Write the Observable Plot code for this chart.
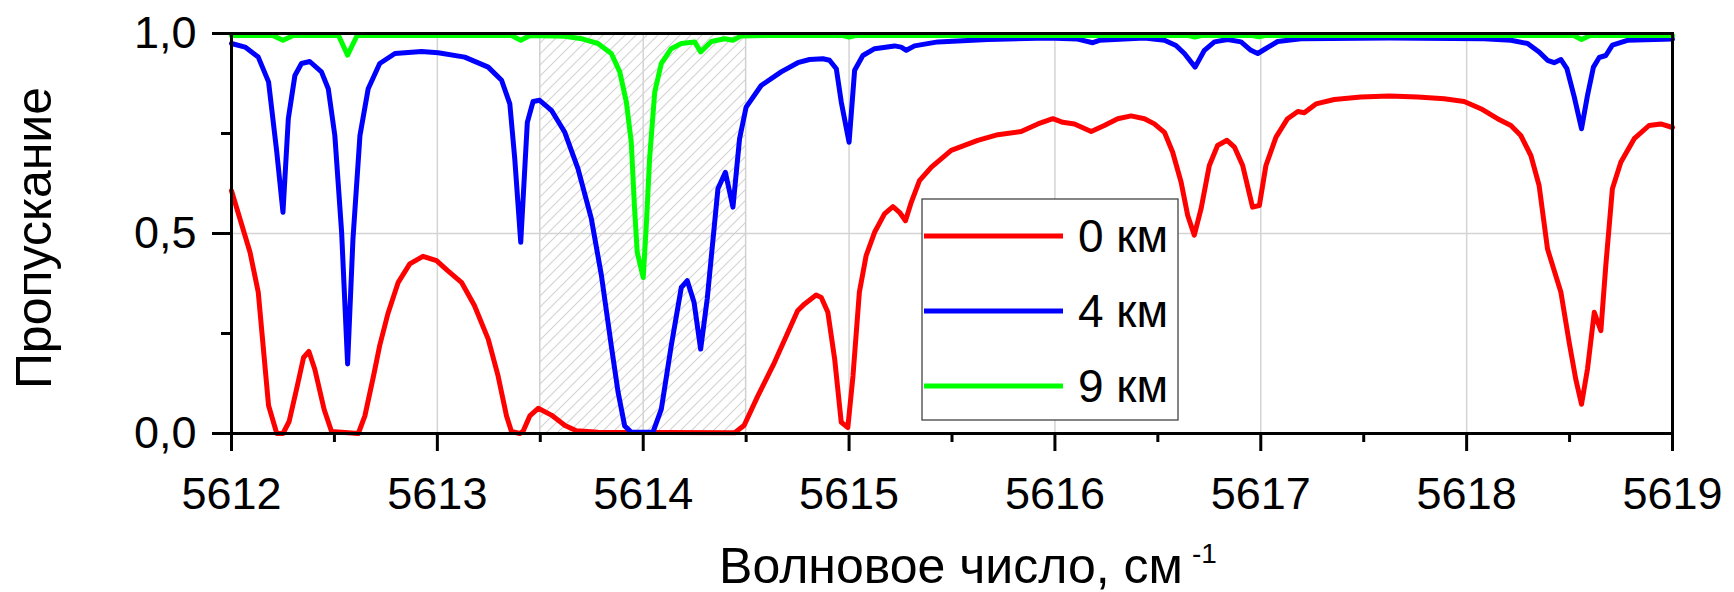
<!DOCTYPE html>
<html><head><meta charset="utf-8">
<script src="https://cdn.jsdelivr.net/npm/d3@7"></script>
<script src="https://cdn.jsdelivr.net/npm/@observablehq/plot@0.6"></script>
<style>body{margin:0;background:#fff;overflow:hidden} svg{display:block}</style>
</head><body><div id="chart"></div>
<script>
// ---- data ----
const seriesNames = ["0 км", "4 км", "9 км"];
const seriesColors = ["#ff0000", "#0000ff", "#00ff00"];

const wn0 = [5612.00,5612.09,5612.13,5612.18,5612.22,5612.25,5612.28,5612.32,5612.35,5612.376,5612.405,5612.45,5612.486,5612.616,5612.648,5612.69,5612.72,5612.76,5612.81,5612.866,5612.93,5612.996,5613.05,5613.117,5613.18,5613.247,5613.295,5613.336,5613.36,5613.40,5613.416,5613.449,5613.49,5613.554,5613.62,5613.675,5613.78,5614.444,5614.49,5614.557,5614.638,5614.75,5614.784,5614.84,5614.865,5614.897,5614.93,5614.962,5614.994,5615.019,5615.05,5615.083,5615.124,5615.172,5615.213,5615.245,5615.274,5615.302,5615.342,5615.40,5615.496,5615.625,5615.723,5615.836,5615.917,5615.99,5616.038,5616.095,5616.176,5616.24,5616.305,5616.37,5616.435,5616.483,5616.532,5616.572,5616.613,5616.645,5616.677,5616.71,5616.75,5616.79,5616.836,5616.872,5616.912,5616.96,5616.993,5617.025,5617.074,5617.13,5617.18,5617.211,5617.268,5617.357,5617.486,5617.624,5617.762,5617.891,5617.988,5618.069,5618.15,5618.215,5618.263,5618.312,5618.352,5618.393,5618.458,5618.498,5618.53,5618.558,5618.587,5618.62,5618.652,5618.676,5618.708,5618.749,5618.814,5618.886,5618.943,5619.0];
const tr0 = [0.607,0.453,0.353,0.07,0.0,0.0,0.03,0.12,0.19,0.205,0.16,0.06,0.005,0.0,0.044,0.144,0.22,0.30,0.378,0.424,0.443,0.432,0.407,0.378,0.32,0.236,0.144,0.044,0.005,0.0,0.005,0.044,0.063,0.046,0.02,0.007,0.003,0.002,0.02,0.094,0.178,0.307,0.324,0.346,0.34,0.303,0.186,0.028,0.015,0.144,0.353,0.445,0.503,0.549,0.567,0.553,0.532,0.578,0.632,0.666,0.708,0.733,0.747,0.755,0.774,0.787,0.778,0.774,0.755,0.77,0.787,0.794,0.787,0.774,0.753,0.703,0.628,0.545,0.496,0.562,0.67,0.72,0.733,0.716,0.67,0.566,0.57,0.67,0.741,0.787,0.805,0.802,0.824,0.835,0.841,0.844,0.841,0.837,0.83,0.812,0.787,0.77,0.745,0.695,0.62,0.461,0.353,0.228,0.136,0.073,0.161,0.303,0.257,0.42,0.612,0.678,0.737,0.77,0.774,0.765];

const wn4 = [5612.00,5612.066,5612.13,5612.18,5612.22,5612.25,5612.276,5612.308,5612.34,5612.38,5612.437,5612.47,5612.502,5612.535,5612.564,5612.59,5612.624,5612.664,5612.72,5612.794,5612.923,5613.004,5613.133,5613.247,5613.312,5613.352,5613.376,5613.405,5613.437,5613.465,5613.497,5613.554,5613.619,5613.683,5613.748,5613.797,5613.845,5613.878,5613.91,5613.942,5614.047,5614.088,5614.136,5614.185,5614.214,5614.247,5614.279,5614.311,5614.363,5614.399,5614.436,5614.468,5614.50,5614.573,5614.67,5614.751,5614.808,5614.873,5614.905,5614.938,5614.962,5615.0,5615.027,5615.067,5615.124,5615.221,5615.253,5615.278,5615.318,5615.431,5615.674,5615.965,5616.11,5616.184,5616.216,5616.435,5616.532,5616.588,5616.629,5616.681,5616.726,5616.775,5616.839,5616.904,5616.952,5616.985,5617.017,5617.082,5617.195,5617.624,5618.085,5618.215,5618.296,5618.352,5618.393,5618.425,5618.458,5618.487,5618.523,5618.558,5618.587,5618.616,5618.644,5618.676,5618.708,5618.781,5619.0];
const tr4 = [0.975,0.966,0.941,0.879,0.703,0.553,0.787,0.895,0.925,0.93,0.904,0.862,0.745,0.503,0.174,0.486,0.745,0.862,0.925,0.95,0.955,0.952,0.941,0.916,0.883,0.824,0.687,0.478,0.778,0.83,0.833,0.808,0.753,0.662,0.537,0.395,0.219,0.103,0.019,0.003,0.003,0.061,0.219,0.365,0.382,0.328,0.211,0.337,0.612,0.653,0.566,0.737,0.816,0.87,0.904,0.927,0.935,0.937,0.933,0.912,0.829,0.728,0.908,0.945,0.962,0.969,0.966,0.958,0.969,0.979,0.985,0.989,0.986,0.977,0.983,0.989,0.983,0.97,0.95,0.916,0.958,0.979,0.985,0.979,0.958,0.95,0.96,0.98,0.987,0.989,0.987,0.983,0.975,0.954,0.933,0.927,0.935,0.912,0.841,0.762,0.845,0.916,0.94,0.945,0.971,0.983,0.986];

const wn9 = [5612.00,5612.20,5612.25,5612.30,5612.52,5612.564,5612.61,5613.36,5613.405,5613.45,5613.619,5613.70,5613.78,5613.845,5613.886,5613.918,5613.942,5613.958,5613.971,5614.00,5614.015,5614.031,5614.056,5614.088,5614.136,5614.185,5614.25,5614.279,5614.331,5614.395,5614.436,5614.476,5614.60,5614.97,5615.00,5615.03,5616.65,5616.68,5616.71,5616.96,5616.99,5617.02,5618.52,5618.558,5618.60,5619.0];
const tr9 = [0.995,0.995,0.983,0.995,0.995,0.946,0.995,0.995,0.983,0.995,0.993,0.987,0.975,0.95,0.904,0.829,0.728,0.562,0.453,0.39,0.52,0.687,0.854,0.925,0.962,0.975,0.979,0.954,0.98,0.987,0.983,0.994,0.995,0.995,0.991,0.995,0.995,0.991,0.995,0.995,0.992,0.995,0.995,0.985,0.995,0.995];

const xTicks = [5612, 5613, 5614, 5615, 5616, 5617, 5618, 5619];
const xMinorTicks = [5612.5, 5613.5, 5614.5, 5615.5, 5616.5, 5617.5, 5618.5];
const xGrid = [5613, 5614, 5615, 5616, 5617, 5618];
const yTicks = [0, 0.5, 1];
const yTickLabels = ["0,0", "0,5", "1,0"];
const yMinorTicks = [0.25, 0.75];
const yGrid = [0.5];
const bandStart = [5613.5];
const bandEnd = [5614.5];
const xTitle = "Волновое число, см";
const xTitleSup = "-1";
const yTitle = "Пропускание";

// ---- build table ----
const rows = [];
[[wn0, tr0], [wn4, tr4], [wn9, tr9]].forEach(([w, t], k) => {
  w.forEach((x, i) => rows.push({w: x, t: t[i], s: seriesNames[k]}));
});
const band = bandStart.map((a, i) => ({a, b: bandEnd[i]}));

const W = 1734, H = 592;
const font = "'Liberation Sans', Arial, sans-serif";

const chart = Plot.plot({
  width: W, height: H,
  marginLeft: 231, marginRight: 62, marginTop: 33, marginBottom: 159,
  style: {fontFamily: font, background: "#fff", color: "#000", overflow: "visible"},
  x: {domain: [5612, 5619], label: null},
  y: {domain: [0, 1], label: null},
  color: {domain: seriesNames, range: seriesColors},
  marks: [
    Plot.rect(band, {x1: "a", x2: "b", y1: 0, y2: 1, fill: "url(#hatch)", stroke: "#d0d0d0", strokeWidth: 1.5}),
    Plot.ruleX(xGrid, {stroke: "#d4d4d4", strokeWidth: 1.5}),
    Plot.ruleY(yGrid, {stroke: "#d4d4d4", strokeWidth: 1.5}),
    Plot.line(rows, {x: "w", y: "t", z: "s", stroke: "s", strokeWidth: 5, strokeLinejoin: "round"}),
    Plot.frame({stroke: "#000", strokeWidth: 3}),
    Plot.axisX(xTicks, {anchor: "bottom", label: null, tickSize: 18, tickPadding: 26, fontSize: 45, strokeWidth: 3, tickFormat: d => String(d)}),
    Plot.axisX(xMinorTicks, {anchor: "bottom", label: null, tickSize: 9, strokeWidth: 3, text: null}),
    Plot.axisY(yTicks, {anchor: "left", label: null, tickSize: 19, tickPadding: 16, fontSize: 45, strokeWidth: 3, tickFormat: (d) => yTickLabels[yTicks.indexOf(d)]}),
    Plot.axisY(yMinorTicks, {anchor: "left", label: null, tickSize: 10, strokeWidth: 3, text: null})
  ]
});

const svg = d3.select(chart);
const defs = svg.insert("defs", ":first-child");
const pat = defs.append("pattern").attr("id", "hatch").attr("patternUnits", "userSpaceOnUse")
  .attr("width", 11).attr("height", 11);
pat.append("path").attr("d", "M-1,1 l2,-2 M0,11 l11,-11 M10,12 l2,-2")
  .attr("stroke", "#d2d2d2").attr("stroke-width", 1.1).attr("fill", "none");

// axis titles
svg.append("text").attr("transform", "translate(51,238) rotate(-90)")
  .attr("text-anchor", "middle").attr("font-size", 50).attr("font-family", font).attr("fill", "#000").text(yTitle);
svg.append("text").attr("x", 951).attr("y", 583).attr("text-anchor", "middle")
  .attr("font-size", 50).attr("font-family", font).attr("fill", "#000").text(xTitle);
svg.append("text").attr("x", 1192).attr("y", 563).attr("text-anchor", "start").attr("font-size", 28)
  .attr("font-family", font).attr("fill", "#000").text(xTitleSup);

// legend
const lg = svg.append("g");
lg.append("rect").attr("x", 922).attr("y", 199).attr("width", 256).attr("height", 221)
  .attr("fill", "#fff").attr("stroke", "#444").attr("stroke-width", 1.3);
seriesNames.forEach((n, i) => {
  const y = 236 + i * 75;
  lg.append("line").attr("x1", 924).attr("x2", 1063).attr("y1", y).attr("y2", y)
    .attr("stroke", seriesColors[i]).attr("stroke-width", 5);
  lg.append("text").attr("x", 1078).attr("y", y + 16).attr("text-anchor", "start").attr("font-size", 46)
    .attr("font-family", font).attr("fill", "#000").text(n);
});

document.getElementById("chart").appendChild(chart);
</script>
</body></html>
